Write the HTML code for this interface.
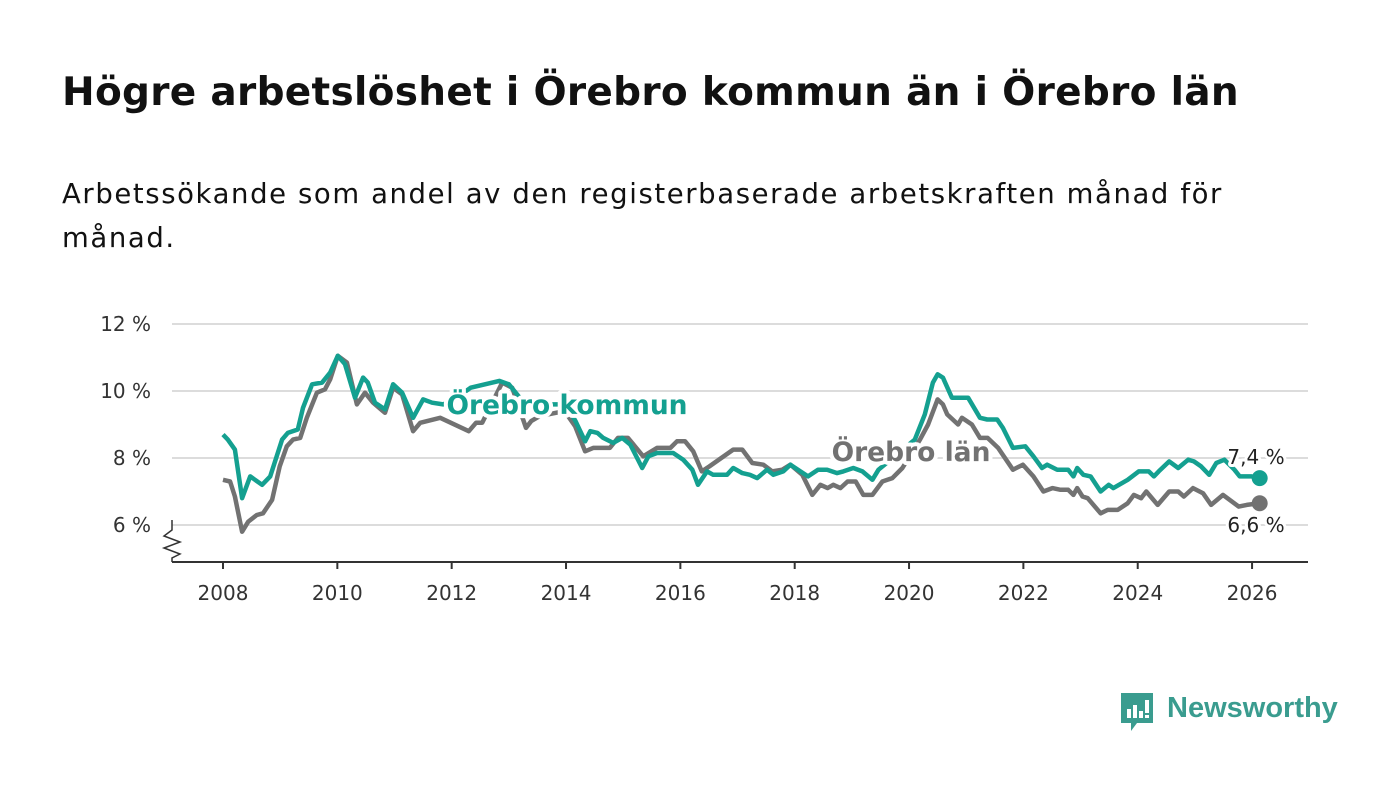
<!DOCTYPE html>
<html><head><meta charset="utf-8"><style>
body{margin:0;background:#fff;font-family:"DejaVu Sans",sans-serif;}
#wrap{position:relative;width:1400px;height:794px;overflow:hidden;background:#fff}
h1{position:absolute;left:62px;top:70px;margin:0;font-family:"DejaVu Sans",sans-serif;font-size:39px;font-weight:bold;color:#111;white-space:nowrap;letter-spacing:0.3px}
p.sub{position:absolute;left:62px;top:172px;margin:0;width:1300px;font-family:"DejaVu Sans",sans-serif;font-size:27.5px;line-height:44px;color:#111;letter-spacing:1.6px;white-space:nowrap}
</style></head><body>
<div id="wrap">
<h1>Högre arbetslöshet i Örebro kommun än i Örebro län</h1>
<p class="sub">Arbetssökande som andel av den registerbaserade arbetskraften månad för<br>månad.</p>
<svg id="chart" width="1400" height="794" style="position:absolute;left:0;top:0"></svg>
<div style="position:absolute;left:1119px;top:691px;">
<svg width="36" height="44"><path d="M2 2h32v30H18l-6 8v-8H2z" fill="#3a9c8f"/><rect x="8" y="18" width="4" height="9" fill="#fff"/><rect x="14" y="14" width="4" height="13" fill="#fff"/><rect x="20" y="20" width="4" height="7" fill="#fff"/><rect x="26" y="9" width="4" height="13" fill="#fff"/><rect x="26" y="24" width="4" height="3" fill="#fff"/></svg>
<span style="position:absolute;left:48px;top:1px;font-family:'Liberation Sans',sans-serif;font-size:29px;font-weight:bold;color:#3a9c8f;white-space:nowrap">Newsworthy</span>
</div>
</div>
<script>
const kommunMonths=[0,1,2.5,4,5.7,8.2,9.9,12.4,13.6,15.7,16.8,18.7,20.8,22.5,24.1,25.6,27.7,29.4,30.4,31.9,34,35.7,37.6,39.9,42,43.9,46.2,48,52,58,60,64,68,72,74,76,77.1,78.6,79.8,81.9,83.8,85.5,88,89.3,91.1,94.5,96.6,98.5,99.7,101.6,102.9,105.8,107.1,109,110.6,112.1,114.2,115.5,117.6,119.1,121.2,122.8,124.9,126.8,128.9,130.2,132.3,134.2,136.3,137.6,145.2,147.3,149,150,151.1,153,155.3,156.4,158.9,160.4,162.5,163.7,165.8,168.4,170.1,171.9,173,175.1,177.4,178.5,179.3,180.6,182.1,184.2,185.9,186.9,189.9,192.2,194.3,195.4,196.4,198.6,200.5,202.6,203.8,205.3,207,208.5,210.2,212.3,213.4,215.9,217.6];
const kommunValues=[8.7,8.55,8.25,6.8,7.45,7.2,7.45,8.55,8.75,8.85,9.5,10.2,10.25,10.55,11.05,10.8,9.8,10.4,10.25,9.65,9.45,10.2,9.95,9.2,9.75,9.65,9.6,9.7,10.1,10.3,10.2,9.5,9.6,9.6,9.1,8.5,8.8,8.75,8.6,8.45,8.6,8.4,7.7,8.05,8.15,8.15,7.95,7.65,7.2,7.6,7.5,7.5,7.7,7.55,7.5,7.4,7.65,7.5,7.6,7.8,7.6,7.45,7.65,7.65,7.55,7.6,7.7,7.6,7.35,7.65,8.55,9.3,10.25,10.5,10.4,9.8,9.8,9.8,9.2,9.15,9.15,8.9,8.3,8.35,8.05,7.7,7.8,7.65,7.65,7.45,7.7,7.5,7.45,7.0,7.2,7.1,7.35,7.6,7.6,7.45,7.6,7.9,7.7,7.95,7.9,7.75,7.5,7.85,7.95,7.65,7.45,7.45,7.4];
const lanMonths=[0,1.5,2.5,4,5.3,7.1,8.4,10.3,11.9,13.4,14.7,16.2,17.6,19.7,21.4,22.5,24.1,26,28.1,29.8,31.5,34,35.7,37.6,39.9,41.4,45.6,51.6,53.1,54.4,58.6,60.7,63.6,64.7,66.5,71.7,73.9,76,77.7,81.2,82.9,85,88.2,91.1,93.9,95.3,97,98.7,100.5,102.1,107.1,109,111.1,113.4,115.3,117.4,119.1,121.6,123.7,125.4,126.9,128.1,129.6,131.1,132.8,134.4,136.3,138.4,140.5,142.6,146.3,148,150,151.1,152,154.3,155.1,157.2,158.9,160.5,162.7,165.8,167.9,170.1,172.2,174.1,175.8,177.4,178.5,179.3,180.4,181.5,184.2,185.7,187.8,189.9,191.2,192.7,193.8,196.2,198.6,200.5,201.7,203.6,205.7,207.4,209.9,213.2,214.9,217.6];
const lanValues=[7.35,7.3,6.85,5.8,6.1,6.3,6.35,6.75,7.75,8.35,8.55,8.6,9.2,9.95,10.05,10.35,11.05,10.85,9.6,9.95,9.65,9.35,10.1,9.9,8.8,9.05,9.2,8.8,9.05,9.05,10.25,10.1,8.9,9.1,9.25,9.4,8.95,8.2,8.3,8.3,8.6,8.6,8.05,8.3,8.3,8.5,8.5,8.2,7.6,7.75,8.25,8.25,7.85,7.8,7.6,7.65,7.8,7.5,6.9,7.2,7.1,7.2,7.1,7.3,7.3,6.9,6.9,7.3,7.4,7.7,8.55,9.0,9.75,9.6,9.3,9.0,9.2,9.0,8.6,8.6,8.3,7.65,7.8,7.45,7.0,7.1,7.05,7.05,6.9,7.1,6.85,6.8,6.35,6.45,6.45,6.65,6.9,6.8,7.0,6.6,7.0,7.0,6.85,7.1,6.95,6.6,6.9,6.55,6.6,6.65];
const yTicks=[6,8,10,12];
const yTickLabels=["6 %","8 %","10 %","12 %"];
const xTicks=[2008,2010,2012,2014,2016,2018,2020,2022,2024,2026];
const lastLabels=["7,4 %","6,6 %"];

const NS="http://www.w3.org/2000/svg";
const svg=document.getElementById('chart');
const X0=223,PXY=57.17,Y0=324,PXV=33.5;
const xM=m=>X0+m*PXY/12;
const xY=y=>X0+(y-2008)*PXY;
const yV=v=>Y0+(12-v)*PXV;
function mk(t,a,p){const e=document.createElementNS(NS,t);for(const k in a)e.setAttribute(k,a[k]);(p||svg).appendChild(e);return e;}
const font='"DejaVu Sans",sans-serif';
yTicks.forEach((v,i)=>{
  const g=mk('line',{x1:172,x2:1308,y1:yV(v),y2:yV(v),stroke:'#dcdcdc','stroke-width':2});
  
  
  const t=mk('text',{x:151,y:yV(v)+7,'text-anchor':'end','font-size':20,fill:'#333','font-family':font});
  t.textContent=yTickLabels[i];
  
  
});
const ax=mk('line',{x1:172,x2:1308,y1:562,y2:562,stroke:'#333','stroke-width':2});


const yax=mk('path',{d:'M172 520 L172 530 L164 536 L180 542 L164 548 L180 554 L172 558 L172 562',fill:'none',stroke:'#333','stroke-width':1.5});


xTicks.forEach(y=>{
  const l=mk('line',{x1:xY(y),x2:xY(y),y1:562,y2:569,stroke:'#333','stroke-width':2});
  
  
  const t=mk('text',{x:xY(y),y:600,'text-anchor':'middle','font-size':20,fill:'#333','font-family':font});
  t.textContent=y;
  
  
});
function line(ms,vs,col,name){
  const d=ms.map((m,i)=>(i?'L':'M')+xM(m).toFixed(1)+' '+yV(vs[i]).toFixed(1)).join(' ');
  const p=mk('path',{d:d,fill:'none',stroke:col,'stroke-width':4.5,'stroke-linejoin':'round'});
  
  
  const n=ms.length-1;
  const c=mk('circle',{cx:xM(ms[n]),cy:yV(vs[n]),r:8,fill:col});
  
  
}
line(lanMonths,lanValues,'#727272','lan-line');
line(kommunMonths,kommunValues,'#14a090','kommun-line');
function lbl(txt,x,y,col,name,size,bold){
  const t=mk('text',{x:x,y:y,'text-anchor':'middle','font-size':size,'font-weight':bold?'bold':'normal',fill:col,stroke:'#fff','stroke-width':bold?8:6,'paint-order':'stroke','stroke-linejoin':'round','font-family':font});
  t.textContent=txt;
  
  
}
lbl('Örebro kommun',567,414,'#14a090','kommun-series-label',26.5,true);
lbl('Örebro län',911,461,'#727272','lan-series-label',26.5,true);
const nk=kommunValues.length-1,nl=lanValues.length-1;
lbl(lastLabels[0],1256,yV(kommunValues[nk])-14,'#222','kommun-last-value',20,false);
lbl(lastLabels[1],1256,yV(lanValues[nl])+29,'#222','lan-last-value',20,false);
</script>
</body></html>
